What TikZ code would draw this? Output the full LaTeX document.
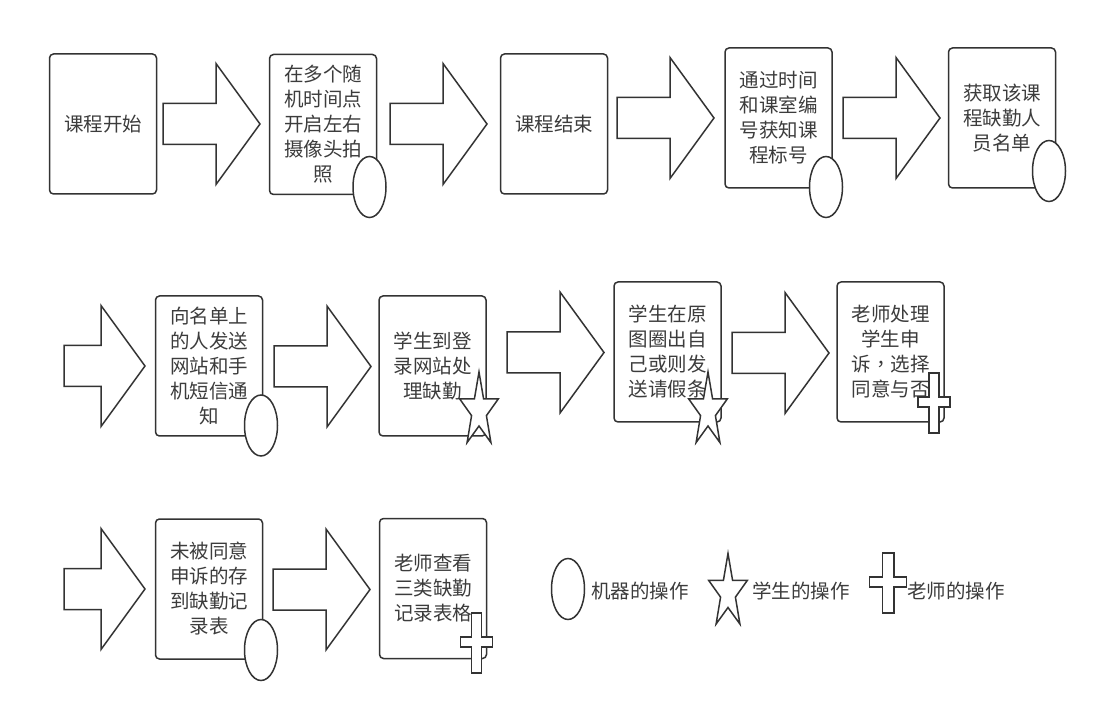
\documentclass[tikz,border=0pt]{standalone}
\usepackage{fontspec}
\usepackage{xcolor}
\usepackage{tikz}
\usetikzlibrary{shapes.geometric}
\newfontfamily\cjk{Noto Sans CJK SC}
\newfontfamily\cjktc{Noto Sans CJK TC}
\definecolor{linegray}{RGB}{51,51,51}
\definecolor{textgray}{RGB}{60,60,60}

\begin{document}
\begin{tikzpicture}[x=1pt, y=-1pt,
  stepbox/.style={draw=linegray, line width=1.5pt, rounded corners=4pt, fill=white,
    minimum width=107pt, minimum height=140pt, inner sep=0pt, align=center,
    text=textgray, font=\cjk\fontsize{19.5}{25}\selectfont},
  markline/.style={draw=linegray, line width=1.5pt, fill=white},
  machine/.style={markline, ellipse, minimum width=33pt, minimum height=61pt, inner sep=0pt},
  legendtext/.style={anchor=west, inner sep=0pt, text=textgray, font=\cjk\fontsize{19.5}{25}\selectfont},
  pics/fatarrow/.style={code={
    \draw[markline] (0,-20.5) -- (53,-20.5) -- (53,-60.5) -- (97,0) -- (53,60.5) -- (53,20.5) -- (0,20.5) -- cycle;}},
  pics/stubarrow/.style={code={
    \draw[markline] (0,-20.5) -- (37,-20.5) -- (37,-60.5) -- (81,0) -- (37,60.5) -- (37,20.5) -- (0,20.5) -- cycle;}},
  pics/student/.style={code={
    \draw[markline, xscale=0.52] (-90:39) \foreach \k in {1,...,9} {-- ({-90+36*\k}:{mod(\k,2)==1 ? 15 : 39})} -- cycle;}},
  pics/teacher/.style={code={
    \draw[markline] (-5,-29) -- (5,-29) -- (5,-5) -- (16,-5) -- (16,5) -- (5,5) -- (5,31) -- (-5,31)
      -- (-5,5) -- (-16,5) -- (-16,-5) -- (-5,-5) -- cycle;}}
]
\useasboundingbox (0,0) rectangle (1096,711);

% Row 1
\node[stepbox] (start) at (103,124) {课程开始};
\node[stepbox] (photo) at (323,124.5) {在多个随\\机时间点\\开启左右\\摄像头拍\\照};
\node[stepbox] (finish) at (554,124) {课程结束};
\node[stepbox] (lookup) at (778.5,118) {通过时间\\和课室编\\号获知课\\程标号};
\node[stepbox] (absent) at (1002,118) {获取该课\\程缺勤人\\员名单};

\pic (a1) at (163,124) {fatarrow};
\pic (a2) at (390,124) {fatarrow};
\pic (a3) at (617,118) {fatarrow};
\pic (a4) at (843,118) {fatarrow};

% Row 2
\node[stepbox] (notify) at (209,366) {向名单上\\的人发送\\网站和手\\机短信通\\知};
\node[stepbox] (login) at (432.5,366) {学生到登\\录网站处\\理缺勤};
\node[stepbox] (appeal) at (667.5,352) {学生在原\\图圈出自\\己或则发\\送请假条};
\node[stepbox] (judge) at (890.5,352) {老师处理\\学生申\\诉{\cjktc ，}选择\\同意与否};

\pic (a5) at (64,366) {stubarrow};
\pic (a6) at (274,366.5) {fatarrow};
\pic (a7) at (507,352.5) {fatarrow};
\pic (a8) at (732,353) {fatarrow};

% Row 3
\node[stepbox] (record) at (209,589) {未被同意\\申诉的存\\到缺勤记\\录表};
\node[stepbox] (review) at (433,588.5) {老师查看\\三类缺勤\\记录表格};

\pic (a9) at (64,589) {stubarrow};
\pic (a10) at (273,589.5) {fatarrow};

% Operation marks
\node[machine] (m1) at (369.5,187) {};
\node[machine] (m2) at (826,187) {};
\node[machine] (m3) at (1049,171) {};
\node[machine] (m4) at (261,425.5) {};
\node[machine] (m5) at (261,650) {};
\pic (s1) at (479,411) {student};
\pic (s2) at (708,411) {student};
\pic (t1) at (934,402) {teacher};
\pic (t2) at (476.5,642) {teacher};

% Legend
\node[machine] (keym) at (568,589) {};
\node[legendtext] (keymtext) at (591,591) {机器的操作};
\pic (keys) at (728,592.5) {student};
\node[legendtext] (keystext) at (752,591) {学生的操作};
\pic[xscale=1.15] (keyt) at (888,582) {teacher};
\node[legendtext] (keyttext) at (907,591) {老师的操作};

\end{tikzpicture}
\end{document}
